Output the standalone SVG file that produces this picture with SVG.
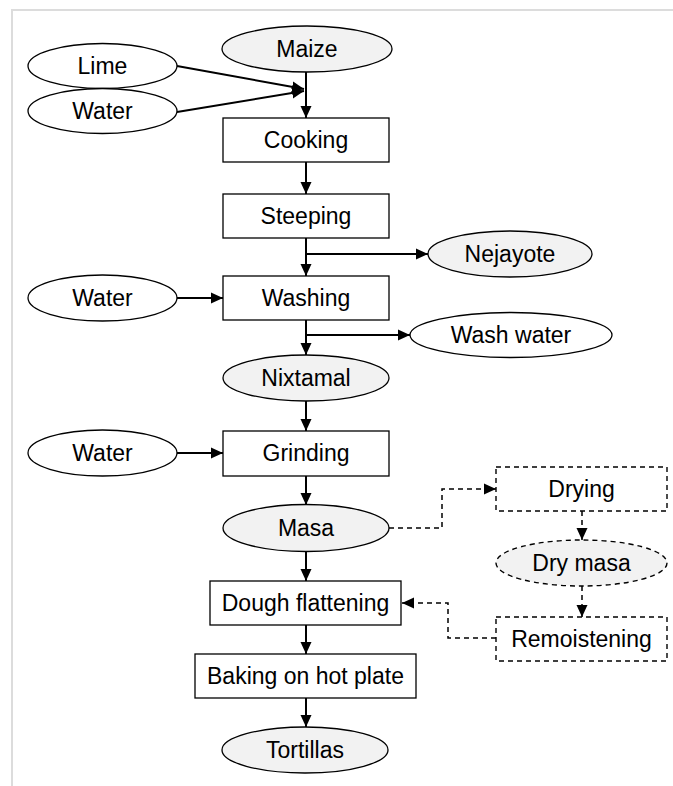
<svg xmlns="http://www.w3.org/2000/svg" width="673" height="786" viewBox="0 0 673 786">
<defs>
<marker id="ah" viewBox="0 0 12 12" refX="12" refY="6" markerWidth="12" markerHeight="12" markerUnits="userSpaceOnUse" orient="auto">
<path d="M0,0.5 L12,6 L0,11.5 Z" fill="#000"/>
</marker>
<style>
.box{fill:#fff;stroke:#000;stroke-width:1.3}
.dbox{fill:#fff;stroke:#000;stroke-width:1.4;stroke-dasharray:5 4}
.ell{fill:#fff;stroke:#000;stroke-width:1.3}
.gell{fill:#f2f2f2;stroke:#000;stroke-width:1.3}
.dell{fill:#f2f2f2;stroke:#000;stroke-width:1.4;stroke-dasharray:5 4}
text{font-family:"Liberation Sans",Arial,sans-serif;font-size:23px;text-anchor:middle;fill:#000}
.c{fill:none;stroke:#000;stroke-width:2}
.d{fill:none;stroke:#000;stroke-width:1.5;stroke-dasharray:5 4}
</style>
</defs>
<rect width="673" height="786" fill="#fff"/>
<path d="M12,786 V10 H673" fill="none" stroke="#dcdcdc" stroke-width="2"/>
<g id="connectors">
<line class="c" x1="306" y1="72" x2="306" y2="118" marker-end="url(#ah)"/>
<line class="c" x1="177" y1="66" x2="304" y2="89" marker-end="url(#ah)"/>
<line class="c" x1="177" y1="112" x2="304" y2="91" marker-end="url(#ah)"/>
<line class="c" x1="306" y1="162" x2="306" y2="194" marker-end="url(#ah)"/>
<line class="c" x1="306" y1="238" x2="306" y2="276" marker-end="url(#ah)"/>
<line class="c" x1="306" y1="254" x2="428" y2="254" marker-end="url(#ah)"/>
<line class="c" x1="177" y1="298" x2="223" y2="298" marker-end="url(#ah)"/>
<line class="c" x1="306" y1="320" x2="306" y2="355" marker-end="url(#ah)"/>
<line class="c" x1="306" y1="335" x2="410" y2="335" marker-end="url(#ah)"/>
<line class="c" x1="306" y1="401" x2="306" y2="431" marker-end="url(#ah)"/>
<line class="c" x1="177" y1="453" x2="223" y2="453" marker-end="url(#ah)"/>
<line class="c" x1="306" y1="476" x2="306" y2="505" marker-end="url(#ah)"/>
<line class="c" x1="306" y1="551" x2="306" y2="581" marker-end="url(#ah)"/>
<line class="c" x1="306" y1="625" x2="306" y2="654" marker-end="url(#ah)"/>
<line class="c" x1="306" y1="698" x2="306" y2="727" marker-end="url(#ah)"/>
<path class="d" d="M389,528 H442 V489 H496" marker-end="url(#ah)"/>
<line class="d" x1="582" y1="511" x2="582" y2="540" marker-end="url(#ah)"/>
<line class="d" x1="582" y1="586" x2="582" y2="617" marker-end="url(#ah)"/>
<path class="d" d="M496,638 H448 V603 H402" marker-end="url(#ah)"/>
</g>
<g id="maize"><ellipse class="gell" cx="307" cy="49" rx="85" ry="23"/><text x="307" y="57">Maize</text></g>
<g id="lime"><ellipse class="ell" cx="102.5" cy="66" rx="74.5" ry="22.5"/><text x="102.5" y="74">Lime</text></g>
<g id="water1"><ellipse class="ell" cx="102.5" cy="111" rx="74.5" ry="22.5"/><text x="102.5" y="119">Water</text></g>
<g id="cooking"><rect class="box" x="223" y="118" width="166" height="44"/><text x="306" y="148">Cooking</text></g>
<g id="steeping"><rect class="box" x="223" y="194" width="166" height="44"/><text x="306" y="224">Steeping</text></g>
<g id="nejayote"><ellipse class="gell" cx="510" cy="254" rx="82" ry="23"/><text x="510" y="262">Nejayote</text></g>
<g id="water2"><ellipse class="ell" cx="102.5" cy="298" rx="74.5" ry="23"/><text x="102.5" y="306">Water</text></g>
<g id="washing"><rect class="box" x="223" y="276" width="166" height="44"/><text x="306" y="306">Washing</text></g>
<g id="washwater"><ellipse class="ell" cx="511" cy="335" rx="101" ry="22.5"/><text x="511" y="343">Wash water</text></g>
<g id="nixtamal"><ellipse class="gell" cx="306" cy="378" rx="83" ry="23"/><text x="306" y="386">Nixtamal</text></g>
<g id="water3"><ellipse class="ell" cx="102.5" cy="453" rx="74.5" ry="23"/><text x="102.5" y="461">Water</text></g>
<g id="grinding"><rect class="box" x="223" y="431" width="166" height="45"/><text x="306" y="461">Grinding</text></g>
<g id="masa"><ellipse class="gell" cx="306" cy="528" rx="83" ry="23.5"/><text x="306" y="536">Masa</text></g>
<g id="drying"><rect class="dbox" x="496" y="467" width="171" height="44"/><text x="581.5" y="497">Drying</text></g>
<g id="drymasa"><ellipse class="dell" cx="581.5" cy="563" rx="85.5" ry="23"/><text x="581.5" y="571">Dry masa</text></g>
<g id="remoistening"><rect class="dbox" x="496" y="617" width="171" height="44"/><text x="581.5" y="647">Remoistening</text></g>
<g id="dough"><rect class="box" x="210" y="581" width="191" height="44"/><text x="305.5" y="611">Dough flattening</text></g>
<g id="baking"><rect class="box" x="195" y="654" width="221" height="44"/><text x="305.5" y="684">Baking on hot plate</text></g>
<g id="tortillas"><ellipse class="gell" cx="305" cy="750" rx="83" ry="23"/><text x="305" y="758">Tortillas</text></g>
</svg>
